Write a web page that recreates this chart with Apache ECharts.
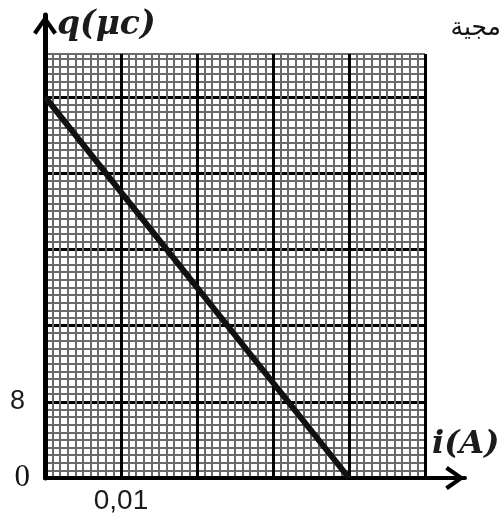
<!DOCTYPE html>
<html>
<head>
<meta charset="utf-8">
<script src="https://cdn.jsdelivr.net/npm/echarts@6/dist/echarts.min.js"></script>
<style>
  html, body { margin: 0; padding: 0; background: #fff; }
  #chart { width: 501px; height: 519px; }
</style>
</head>
<body>
<div id="chart"></div>
<script>
// data: q (µC) as a function of i (A)
const iValues = [0, 0.04];
const qValues = [40, 0];

// tick labels shown on the axes
const xTickValues = [0.01];
const xTickLabels = ['0,01'];
const yTickValues = [0, 8];
const yTickLabels = ['0', '8'];

const chevron = 'path://M12,0 L24,17 L20.5,19.5 L12,7 L3.5,19.5 L0,17 Z';

function pick(values, labels, v) {
  for (let k = 0; k < values.length; k++) {
    if (Math.abs(values[k] - v) < 1e-9) return labels[k];
  }
  return '';
}

const minorLine = { show: true, lineStyle: { color: '#6a6a6a', width: 2 } };
const majorLine = { show: true, showMaxLine: false, lineStyle: { color: '#000', width: 3 } };
const hidden = { show: false };

const chart = echarts.init(document.getElementById('chart'));
chart.setOption({
  animation: false,
  backgroundColor: '#fff',
  grid: [
    // graph paper
    { left: 45, right: 76, top: 54, bottom: 41 },
    // axes with arrows, longer than the paper
    { left: 45, right: 36, top: 15, bottom: 41 }
  ],
  xAxis: [
    { type: 'value', gridIndex: 0, position: 'bottom', min: 0, max: 0.05, interval: 0.001,
      axisLine: hidden, axisTick: hidden, axisLabel: hidden, splitLine: minorLine },
    { type: 'value', gridIndex: 0, position: 'bottom', min: 0, max: 0.05, interval: 0.01,
      axisLine: hidden, axisTick: hidden,
      splitLine: { show: true, lineStyle: { color: '#000', width: 3 } },
      axisLabel: {
        margin: 9,
        fontFamily: 'Liberation Sans', fontSize: 28, color: '#1b1b1b',
        formatter: v => pick(xTickValues, xTickLabels, v)
      } },
    { type: 'value', gridIndex: 1, min: 0, max: 1,
      axisLine: { show: true, symbol: ['none', chevron], symbolSize: [24, 20], symbolOffset: [0, -10],
                  lineStyle: { color: '#000', width: 4 } },
      axisTick: hidden, axisLabel: hidden, splitLine: hidden }
  ],
  yAxis: [
    { type: 'value', gridIndex: 0, position: 'left', min: 0, max: 44.5, interval: 0.8,
      axisLine: hidden, axisTick: hidden, axisLabel: hidden, splitLine: minorLine },
    { type: 'value', gridIndex: 0, position: 'left', min: 0, max: 44.5, interval: 8,
      axisLine: hidden, axisTick: hidden, splitLine: majorLine,
      axisLabel: {
        margin: 15,
        formatter: v => {
          const t = pick(yTickValues, yTickLabels, v);
          if (!t) return '';
          return v === 0 ? '{serif|' + t + '}' : '{sans|' + t + '}';
        },
        rich: {
          serif: { fontFamily: 'Liberation Serif', fontSize: 31, color: '#111' },
          sans: { fontFamily: 'Liberation Sans', fontSize: 27, color: '#1b1b1b', padding: [0, 5, 0, 0] }
        }
      } },
    { type: 'value', gridIndex: 1, min: 0, max: 1,
      axisLine: { show: true, symbol: ['none', chevron], symbolSize: [24, 20], symbolOffset: [0, -10],
                  lineStyle: { color: '#000', width: 5 } },
      axisTick: hidden, axisLabel: hidden, splitLine: hidden }
  ],
  series: [{
    type: 'line',
    xAxisIndex: 1,
    yAxisIndex: 1,
    data: iValues.map((x, k) => [x, qValues[k]]),
    showSymbol: false,
    lineStyle: { color: '#111', width: 6 },
    z: 5
  }],
  graphic: [
    { type: 'text', left: 57, top: 9,
      style: { text: 'q(μc)', font: 'italic bold 33px "DejaVu Serif"', fill: '#1b1b1b' } },
    { type: 'text', left: 432, top: 429,
      style: { text: 'i(A)', font: 'italic bold 32px "DejaVu Serif"', fill: '#1b1b1b' } },
    { type: 'text', right: 0, top: 16,
      style: { text: 'مجية', font: '25px "DejaVu Sans"', fill: '#111' } }
  ]
});
</script>
</body>
</html>
